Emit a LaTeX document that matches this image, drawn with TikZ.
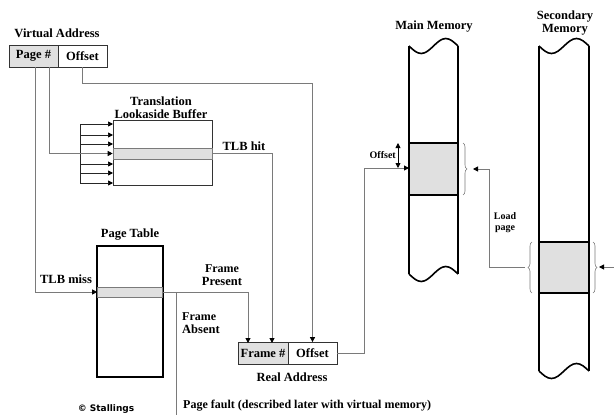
\documentclass[tikz,border=0pt]{standalone}
\usepackage{fontspec}
\setmainfont{Liberation Serif}
\newfontfamily\stalfont{DejaVu Sans}
\usetikzlibrary{arrows.meta,decorations.pathreplacing,calc}
\definecolor{cellgray}{HTML}{E0E0E0}
\definecolor{linegray}{HTML}{7A7A7A}
\tikzset{
  lbl/.style={font=\bfseries\fontsize{12.5}{13.5}\selectfont, inner sep=0pt},
  small/.style={font=\bfseries\fontsize{10}{11}\selectfont, inner sep=0pt},
  cell/.style={draw=black!80, line width=0.8pt, minimum height=22pt, inner sep=0pt, font=\bfseries\fontsize{12.5}{13}\selectfont},
  conn/.style={draw=linegray, line width=1pt},
  tip/.style={-{Triangle[length=5pt,width=5pt,color=black]}},
  memwall/.style={draw=black, line width=1.6pt},
  brc/.style={draw=linegray, line width=0.6pt, decorate, decoration={brace, amplitude=4pt}},
}
\begin{document}
\begin{tikzpicture}[x=1pt,y=-1pt]
\useasboundingbox (0,0) rectangle (614,415);

% ---------- Virtual address ----------
\node[lbl] (vatitle) at (57,33) {Virtual Address};
\node[cell, fill=cellgray, minimum width=49pt] (pg) at (33.5,56) {Page \#};
\node[cell, minimum width=49pt] (vaoff) at (82.5,56) {Offset};
\coordinate (pgA) at (49,67);
\coordinate (pgB) at (35,67);

% ---------- TLB ----------
\node[lbl, align=center] (tlbtitle) at (161,107.5) {Translation\\[0pt]Lookaside Buffer};
\node[draw=black!80, line width=0.8pt, minimum width=99pt, minimum height=65pt, inner sep=0pt] (tlb) at (162.5,152.5) {};
\node[draw=linegray, fill=cellgray, line width=0.6pt, minimum width=99pt, minimum height=11pt, inner sep=0pt] (tlbrow) at (162.5,153.5) {};
\coordinate (brk1) at (80,124);
\coordinate (brk2) at (80,183);
\draw[black!85, line width=0.7pt] (brk1) -- (brk2);
\foreach \yy in {124,135,144,164,173,183}{
  \draw[black!85, line width=0.7pt, tip] (80,\yy) -- (113,\yy);
}
\draw[conn, tip] (pgA) |- (tlbrow.west);
\node[lbl] (hit) at (244,146) {TLB hit};

% ---------- Page table ----------
\node[lbl] (pttitle) at (130,235) {Page Table};
\node[draw=black, line width=1.6pt, minimum width=66pt, minimum height=131pt, inner sep=0pt] (pt) at (130,311.5) {};
\node[draw=linegray, fill=cellgray, line width=0.6pt, minimum width=65pt, minimum height=10pt, inner sep=0pt] (ptrow) at (130,292) {};
\node[lbl] (miss) at (66,279) {TLB miss};
\draw[conn, tip] (pgB) |- (ptrow.west);

% ---------- Real address ----------
\node[cell, fill=cellgray, minimum width=50pt] (fr) at (263,353.5) {Frame \#};
\node[cell, minimum width=49pt] (raoff) at (312.5,353.5) {Offset};
\node[lbl] (ratitle) at (292,377) {Real Address};
\coordinate (frA) at (248,343);
\coordinate (frB) at (272,343);

\draw[conn, tip] (vaoff.south) -- ++(0,16) -| (raoff.north);
\draw[conn, tip] (tlbrow.east) -| (frB);
\draw[conn, tip] (ptrow.east) -| (frA);
\node[lbl, align=center] (present) at (222,275) {\fontsize{12}{12.5}\selectfont Frame\\[-1pt]Present};

\coordinate (absTop) at (176,292);
\coordinate (absBot) at (176,415);
\draw[conn] (absTop) -- (absBot);
\node[lbl, align=left, anchor=west] (absent) at (182,323) {\fontsize{12}{12.5}\selectfont Frame\\[-1pt]Absent};
\node[lbl, anchor=west] (fault) at (183,406) {\fontsize{12}{13}\selectfont Page fault (described later with virtual memory)};
\node[inner sep=0pt, font=\stalfont\bfseries\fontsize{9}{10}\selectfont] (stal) at (106,409) {© Stallings};

% ---------- Main memory ----------
\node[lbl] (mmtitle) at (434,27) {Main Memory};
\node[draw=black, fill=cellgray, line width=1.6pt, minimum width=49pt, minimum height=52pt, inner sep=0pt] (mmrow) at (433.5,169) {};
\draw[memwall] (409,46) sin (421.25,53.5) cos (433.5,46) sin (445.75,38.5) cos (458,46);
\draw[memwall] (409,274) sin (421.25,281.5) cos (433.5,274) sin (445.75,266.5) cos (458,274);
\draw[memwall] (409,46) -- (409,274);
\draw[memwall] (458,46) -- (458,274);
\coordinate (mmin) at (409,168);
\draw[conn, tip] (raoff.east) -- (364,353.5) |- (mmin);
\coordinate (offT) at (398,143);
\coordinate (offB) at (398,168);
\draw[black, line width=0.8pt, {Triangle[length=5pt,width=5pt]}-{Triangle[length=5pt,width=5pt]}] (offT) -- (offB);
\node[small, anchor=east] (offlbl) at (396,155) {Offset};
\draw[brc] (463,143) -- (463,195);

% ---------- Secondary memory ----------
\node[lbl, align=center] (smtitle) at (565,23) {Secondary\\[-1pt]Memory};
\node[draw=black, fill=cellgray, line width=1.6pt, minimum width=50pt, minimum height=51pt, inner sep=0pt] (smrow) at (564,267.5) {};
\draw[memwall] (539,46) sin (551.5,53.5) cos (564,46) sin (576.5,38.5) cos (589,46);
\draw[memwall] (539,371) sin (551.5,378.5) cos (564,371) sin (576.5,363.5) cos (589,371);
\draw[memwall] (539,46) -- (539,371);
\draw[memwall] (589,46) -- (589,371);
\draw[brc] (532,293) -- (532,242);
\draw[brc] (593,242) -- (593,293);
\coordinate (smL) at (525,267);
\coordinate (mmR) at (473,169);
\draw[conn, tip] (smL) -- (489,267) |- (mmR);
\node[small, align=center] (load) at (505,223) {Load\\[0pt]page};
\coordinate (edgeR) at (614,267);
\coordinate (smR) at (599,267);
\draw[conn, tip] (edgeR) -- (smR);
\end{tikzpicture}
\end{document}
